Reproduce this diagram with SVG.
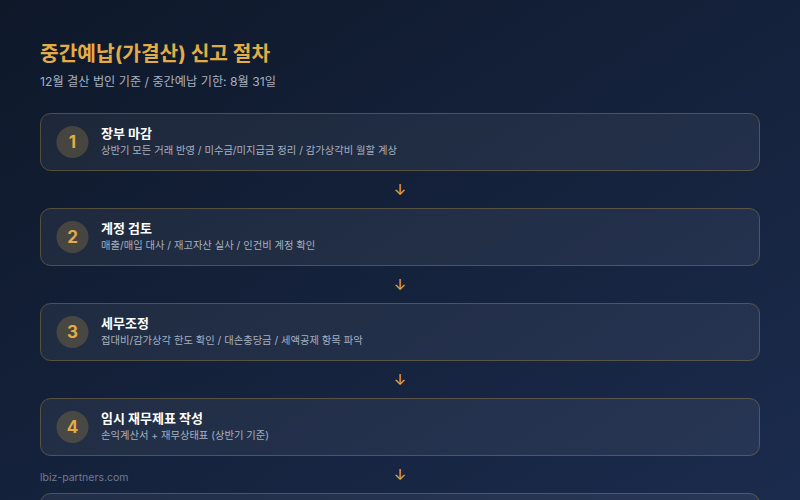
<svg xmlns="http://www.w3.org/2000/svg" width="800" height="500" viewBox="0 0 800 500">
<defs>
<linearGradient id="bg" x1="0" y1="0" x2="1" y2="1">
<stop offset="0" stop-color="#0e1829"/>
<stop offset="1" stop-color="#1b2b4d"/>
</linearGradient>
<style>
text{font-family:Inter,"Noto Sans CJK KR",sans-serif}
.card{fill:#ffffff;fill-opacity:0.06;stroke:#c9a24a;stroke-opacity:0.35;stroke-width:1}
.badge{fill:#d4a84a;fill-opacity:0.22}
.num{fill:#e2ad47;font-size:17px;font-weight:700;text-anchor:middle}
.ttl{fill:#ffffff;font-size:13px;font-weight:700}
.desc{fill:#a7b0c0;font-size:10.3px}
.arr{fill:#e2ad47;font-size:15px;text-anchor:middle}
</style>
</defs>
<rect width="800" height="500" fill="url(#bg)"/>
<text x="40" y="61" fill="#e2ad47" font-size="20.3" font-weight="700">중간예납(가결산) 신고 절차</text>
<text x="40" y="86" fill="#a7b0c0" font-size="12.2">12월 결산 법인 기준 / 중간예납 기한: 8월 31일</text>
<g id="connectors">
<text class="arr" x="400" y="195">↓</text>
<text class="arr" x="400" y="290">↓</text>
<text class="arr" x="400" y="385">↓</text>
<text class="arr" x="400" y="480">↓</text>
</g>
<g id="step1">
<rect class="card" x="40.5" y="113.5" width="719" height="57" rx="10"/>
<circle class="badge" cx="72.5" cy="142" r="16"/>
<text class="num" x="72.5" y="148">1</text>
<text class="ttl" x="101" y="138">장부 마감</text>
<text class="desc" x="101" y="154">상반기 모든 거래 반영 / 미수금/미지급금 정리 / 감가상각비 월할 계상</text>
</g>
<g id="step2">
<rect class="card" x="40.5" y="208.5" width="719" height="57" rx="10"/>
<circle class="badge" cx="72.5" cy="237" r="16"/>
<text class="num" x="72.5" y="243">2</text>
<text class="ttl" x="101" y="233">계정 검토</text>
<text class="desc" x="101" y="249">매출/매입 대사 / 재고자산 실사 / 인건비 계정 확인</text>
</g>
<g id="step3">
<rect class="card" x="40.5" y="303.5" width="719" height="57" rx="10"/>
<circle class="badge" cx="72.5" cy="332" r="16"/>
<text class="num" x="72.5" y="338">3</text>
<text class="ttl" x="101" y="328">세무조정</text>
<text class="desc" x="101" y="344">접대비/감가상각 한도 확인 / 대손충당금 / 세액공제 항목 파악</text>
</g>
<g id="step4">
<rect class="card" x="40.5" y="398.5" width="719" height="57" rx="10"/>
<circle class="badge" cx="72.5" cy="427" r="16"/>
<text class="num" x="72.5" y="433">4</text>
<text class="ttl" x="101" y="423">임시 재무제표 작성</text>
<text class="desc" x="101" y="439">손익계산서 + 재무상태표 (상반기 기준)</text>
</g>
<g id="step5">
<rect class="card" x="40.5" y="493.5" width="719" height="57" rx="10"/>
</g>
<text x="40" y="481" fill="#6f7c92" font-size="10.5">lbiz-partners.com</text>
</svg>
